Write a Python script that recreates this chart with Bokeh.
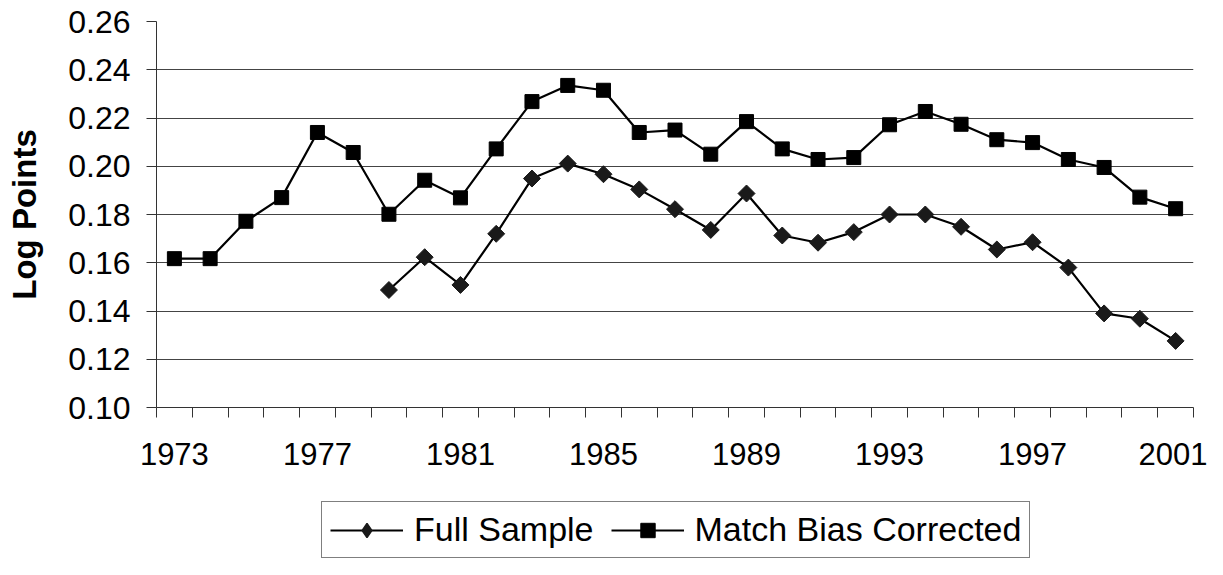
import math
from bokeh.plotting import figure
from bokeh.layouts import column
from bokeh.models import (Range1d, FixedTicker, PrintfTickFormatter, Legend, LegendItem,
                          ColumnDataSource)
from bokeh.embed import file_html
from bokeh.resources import INLINE

years = [1973, 1974, 1975, 1976, 1977, 1978, 1979, 1980, 1981, 1982,
         1983, 1984, 1985, 1986, 1987, 1988, 1989, 1990, 1991, 1992,
         1993, 1994, 1995, 1996, 1997, 1998, 1999, 2000, 2001]
NA = float("nan")
full_sample = [NA, NA, NA, NA, NA, NA, 0.1487, 0.1623, 0.1508, 0.1720,
               0.1949, 0.2011, 0.1967, 0.1904, 0.1822, 0.1736, 0.1887, 0.1713, 0.1683, 0.1727,
               0.1800, 0.1800, 0.1749, 0.1655, 0.1685, 0.1580, 0.1390, 0.1368, 0.1276]
match_bias = [0.1617, 0.1617, 0.1772, 0.1870, 0.2140, 0.2057, 0.1801, 0.1942, 0.1869, 0.2072,
              0.2268, 0.2335, 0.2315, 0.2140, 0.2150, 0.2050, 0.2185, 0.2072, 0.2028, 0.2036,
              0.2172, 0.2227, 0.2174, 0.2110, 0.2098, 0.2028, 0.1995, 0.1872, 0.1824]
label_years = [1973, 1977, 1981, 1985, 1989, 1993, 1997, 2001]
y_ticks = [0.10, 0.12, 0.14, 0.16, 0.18, 0.20, 0.22, 0.24, 0.26]
series_names = ["Full Sample", "Match Bias Corrected"]

FONT = "Liberation Sans"
W = 1207
H_MAIN = 490
H_LEG = 69

src = ColumnDataSource(dict(x=years, full=full_sample, match=match_bias))

p = figure(width=W, height=H_MAIN, output_backend="svg", toolbar_location=None,
           x_range=Range1d(years[0] - 0.5, years[-1] + 0.5),
           y_range=Range1d(y_ticks[0], y_ticks[-1]),
           min_border_left=156, min_border_right=14, min_border_top=21,
           min_border_bottom=83)
p.outline_line_color = None
p.background_fill_color = "white"
p.border_fill_color = "white"

# axes
xa = p.xaxis[0]
xa.ticker = FixedTicker(ticks=label_years,
                        minor_ticks=[y - 0.5 for y in years] + [years[-1] + 0.5])
xa.major_tick_out = 0
xa.major_tick_in = 0
xa.minor_tick_out = 10
xa.minor_tick_in = 0
xa.minor_tick_line_color = "#333333"
xa.axis_line_color = "#333333"
xa.major_label_text_font = FONT
xa.major_label_text_font_size = "31px"
xa.major_label_text_color = "black"
xa.major_label_standoff = 25

ya = p.yaxis[0]
ya.ticker = FixedTicker(ticks=y_ticks)
ya.formatter = PrintfTickFormatter(format="%.2f")
ya.major_tick_out = 10
ya.major_tick_in = 0
ya.minor_tick_out = 0
ya.minor_tick_in = 0
ya.major_tick_line_color = "#333333"
ya.axis_line_color = "#333333"
ya.major_label_text_font = FONT
ya.major_label_text_font_size = "32px"
ya.major_label_text_color = "black"
ya.major_label_standoff = 16
ya.axis_label = "Log Points"
ya.axis_label_text_font = FONT
ya.axis_label_text_font_style = "bold"
ya.axis_label_text_font_size = "33px"
ya.axis_label_text_color = "black"
ya.axis_label_standoff = 22

p.xgrid.grid_line_color = None
p.ygrid.ticker = FixedTicker(ticks=y_ticks[1:-1])
p.ygrid.grid_line_color = "#444444"
p.ygrid.grid_line_width = 1

# series
p.line("x", "full", source=src, line_color="black", line_width=2.2)
p.scatter("x", "full", source=src, marker="square", angle=math.pi / 4, size=12,
          fill_color="#1a1a1a", line_color="#1a1a1a")
p.line("x", "match", source=src, line_color="black", line_width=2.2)
p.scatter("x", "match", source=src, marker="square", size=14,
          fill_color="black", line_color="black")

# legend strip below the chart (sample glyphs sit outside its visible range)
p2 = figure(width=W, height=H_LEG, output_backend="svg", toolbar_location=None,
            x_range=Range1d(0, 1), y_range=Range1d(0, 1),
            x_axis_type=None, y_axis_type=None, min_border=0)
p2.outline_line_color = None
p2.xgrid.grid_line_color = None
p2.ygrid.grid_line_color = None
dummy = ColumnDataSource(dict(x=[-10, -11], y=[-10, -11]))
l1 = p2.line("x", "y", source=dummy, line_color="black", line_width=2.2)
m1 = p2.scatter("x", "y", source=dummy, marker="diamond", size=12,
                fill_color="#1a1a1a", line_color="#1a1a1a", line_width=1.5)
l2 = p2.line("x", "y", source=dummy, line_color="black", line_width=2.2)
m2 = p2.scatter("x", "y", source=dummy, marker="square", size=14,
                fill_color="black", line_color="black")

legend = Legend(items=[LegendItem(label=series_names[0], renderers=[l1, m1]),
                       LegendItem(label=series_names[1], renderers=[l2, m2])],
                location=(165, 1), orientation="horizontal",
                label_text_font=FONT, label_text_font_size="34px",
                label_text_color="black",
                glyph_width=73, glyph_height=36, label_standoff=11, spacing=17,
                padding=8, margin=0,
                border_line_color="black", border_line_width=1,
                background_fill_color="white", background_fill_alpha=1)
p2.add_layout(legend, "center")

open("out.html", "w").write(file_html(column(p, p2, spacing=0), INLINE))
